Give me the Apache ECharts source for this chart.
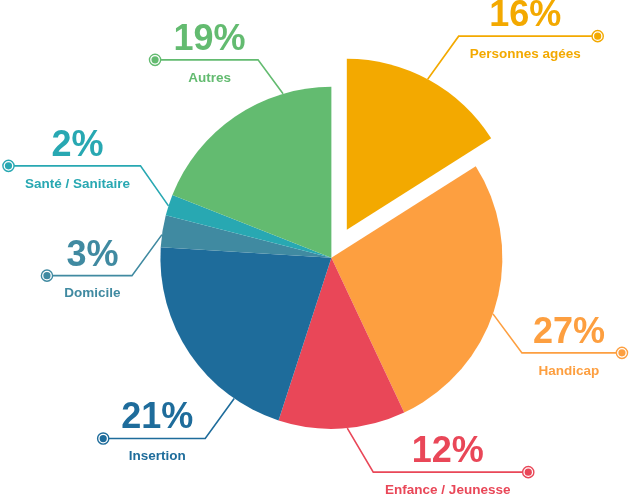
<!DOCTYPE html>
<html>
<head>
<meta charset="utf-8">
<script src="https://cdn.jsdelivr.net/npm/echarts@6/dist/echarts.min.js"></script>
<style>
html,body{margin:0;padding:0;background:#fff;}
#c{width:630px;height:494px;}
</style>
</head>
<body>
<div id="c"></div>
<script>
// ---- data ----
const categories = ['Personnes agées', 'Handicap', 'Enfance / Jeunesse', 'Insertion', 'Domicile', 'Santé / Sanitaire', 'Autres'];
const values = [16, 27, 12, 21, 3, 2, 19];
const exploded = ['Personnes agées'];

// ---- styles ----
const colors = ['#F3A900', '#FD9F40', '#E94758', '#1E6C9B', '#408AA1', '#28A8B2', '#63BB70'];
const FONT = '"Liberation Sans", Arial, Helvetica, sans-serif';
const CENTER = [52.6, 52.2];   // percent of width/height
const RADIUS = 171;
const EXPLODE = 32;
const NONE = 'rgba(0,0,0,0)';
// label-line layout: at = position along the slice (0..1), elbow offset, horizontal run to the marker
const labelGeo = [
  { at: 0.49, dx: 31, dy: -43, run: 139 },
  { at: 0.53, dx: 29, dy: 39, run: 100 },
  { at: 0.46, dx: 26, dy: 44, run: 155 },
  { at: 0.22, dx: -29, dy: 40, run: -102 },
  { at: 0.39, dx: -30, dy: 41, run: -85 },
  { at: 0.46, dx: -28, dy: -40, run: -132 },
  { at: 0.76, dx: -25, dy: -34, run: -103 }
];

const chart = echarts.init(document.getElementById('c'), null, { renderer: 'canvas' });
const W = chart.getWidth(), H = chart.getHeight();
const cx = W * CENTER[0] / 100, cy = H * CENTER[1] / 100;
const total = values.reduce((a, b) => a + b, 0);

function isExploded(i) { return exploded.indexOf(categories[i]) >= 0; }

function explodeShift(i) {
  let acc = 0;
  for (let k = 0; k < i; k++) acc += values[k];
  const mid = (acc + values[i] / 2) / total * Math.PI * 2 - Math.PI / 2;
  return isExploded(i) ? [Math.cos(mid) * EXPLODE, Math.sin(mid) * EXPLODE] : [0, 0];
}

function geometry(i) {
  let acc = 0;
  for (let k = 0; k < i; k++) acc += values[k];
  const g = labelGeo[i];
  const a = (acc + values[i] * g.at) / total * Math.PI * 2 - Math.PI / 2;
  const sh = explodeShift(i);
  const start = [cx + RADIUS * Math.cos(a) + sh[0], cy + RADIUS * Math.sin(a) + sh[1]];
  const elbow = [start[0] + g.dx, start[1] + g.dy];
  const end = [elbow[0] + g.run, elbow[1]];
  return { start, elbow, end, sign: g.run > 0 ? 1 : -1 };
}

// main pie: every slice except the exploded one is drawn here; all labels are drawn here
const mainData = categories.map((name, i) => ({
  name: name,
  value: values[i],
  itemStyle: { color: isExploded(i) ? NONE : colors[i] },
  label: { color: colors[i] },
  labelLine: { lineStyle: { color: colors[i] } }
}));

// exploded pie: same data, only the exploded slice visible, centre pushed out along its mid angle
const explodedIndex = categories.findIndex((n, i) => isExploded(i));
const shift = explodeShift(explodedIndex);
const explodedData = categories.map((name, i) => ({
  name: name,
  value: values[i],
  itemStyle: { color: isExploded(i) ? colors[i] : NONE }
}));

const rings = [];
categories.forEach((name, i) => {
  const g = geometry(i);
  rings.push({
    type: 'circle', shape: { cx: g.end[0], cy: g.end[1], r: 5.6 },
    style: { fill: '#fff', stroke: colors[i], lineWidth: 1.4 }, z: 10
  });
  rings.push({
    type: 'circle', shape: { cx: g.end[0], cy: g.end[1], r: 3.6 },
    style: { fill: colors[i] }, z: 11
  });
});

chart.setOption({
  backgroundColor: '#fff',
  animation: false,
  graphic: rings,
  series: [{
    type: 'pie',
    center: [cx, cy],
    radius: RADIUS,
    startAngle: 90,
    clockwise: true,
    silent: true,
    avoidLabelOverlap: false,
    itemStyle: { borderWidth: 0 },
    emphasis: { disabled: true },
    label: {
      show: true,
      formatter: '{p|{c}%}\n{n|{b}}',
      fontFamily: FONT,
      rich: {
        p: { fontSize: 36, fontWeight: 'bold', fontFamily: FONT, lineHeight: 45 },
        n: { fontSize: 13.5, fontWeight: 'bold', fontFamily: FONT, lineHeight: 31 }
      }
    },
    labelLine: { show: true, length: 20, length2: 20, lineStyle: { width: 1.6 } },
    labelLayout: function (params) {
      const i = params.dataIndex;
      const g = geometry(i);
      const innerEnd = g.end[0] - g.sign * 6;
      return {
        x: (g.elbow[0] + innerEnd) / 2,
        y: g.elbow[1] - 42.5,
        align: 'center',
        verticalAlign: 'top',
        labelLinePoints: [g.start, g.elbow, g.end]
      };
    },
    data: mainData
  }, {
    type: 'pie',
    center: [cx + shift[0], cy + shift[1]],
    radius: RADIUS,
    startAngle: 90,
    clockwise: true,
    silent: true,
    itemStyle: { borderWidth: 0 },
    emphasis: { disabled: true },
    label: { show: false },
    labelLine: { show: false },
    data: explodedData
  }]
});
</script>
</body>
</html>
